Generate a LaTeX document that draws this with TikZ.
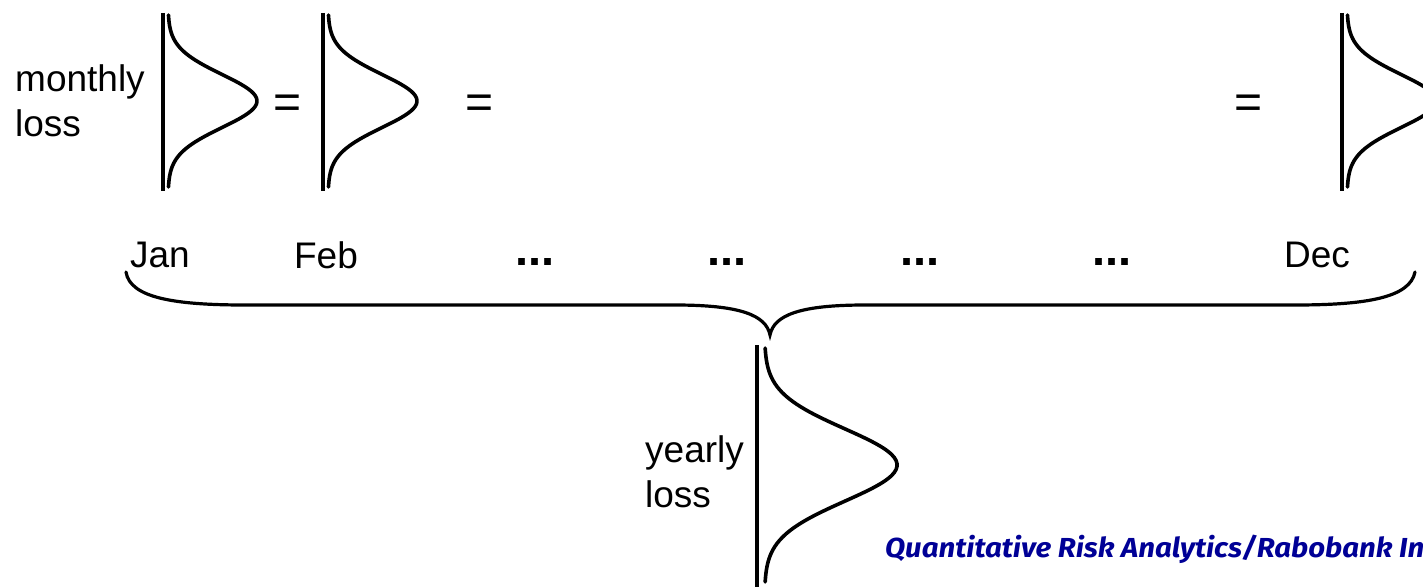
\documentclass[tikz,border=0pt]{standalone}
\usepackage{fontspec}
\setmainfont{Liberation Sans}
\newfontfamily\footfont{Fira Sans}
\definecolor{qrablue}{RGB}{0,0,150}
\tikzset{
  lbl/.style={font=\fontsize{37}{45}\selectfont, inner sep=0pt, align=left},
  eqsign/.style={font=\fontsize{48}{50}\selectfont, inner sep=0pt},
  dots/.style={font=\fontsize{47}{50}\selectfont\bfseries, inner sep=0pt, anchor=base},
  ln/.style={line width=3.2pt, line cap=butt},
  crv/.style={line width=3.6pt, line cap=round},
}
% distribution: #1 = x of axis, #2 = y of centre, #3 = x scale, #4 = y scale
\newcommand{\distshape}[4]{%
  \draw[ln] (#1,{#2-88*#4}) -- (#1,{#2+90*#4});
  \draw[crv] plot[domain=-86:86, samples=80, smooth, variable=\t]
    ({#1+#3*(5+89*exp(-(\t*\t)/1412))}, {#2+#4*\t});
}
\begin{document}
\begin{tikzpicture}[x=1pt,y=-1pt]
\useasboundingbox (0,0) rectangle (1423,586);
\clip (0,0) rectangle (1423,586);
% monthly distributions
\distshape{163}{101}{1}{1}
\distshape{323}{101}{1}{1}
\distshape{1342}{101}{1}{1}
% yearly distribution
\distshape{757}{465}{1.49}{1.36}
% labels
\node[lbl, anchor=west] (monthly) at (15,101) {monthly\\loss};
\node[eqsign] (eq1) at (288,107) {=};
\node[eqsign] (eq2) at (480,107) {=};
\node[eqsign] (eq3) at (1248,107) {=};
\node[lbl] (jan) at (160,255) {Jan};
\node[lbl] (feb) at (326,255) {Feb};
\node[dots] (d1) at (535,265) {...};
\node[dots] (d2) at (727,265) {...};
\node[dots] (d3) at (920,265) {...};
\node[dots] (d4) at (1112,265) {...};
\node[lbl] (dec) at (1317,255) {Dec};
\node[lbl, anchor=west] (yearly) at (645,472) {yearly\\loss};
% brace
\coordinate (bl) at (126,272);
\coordinate (br) at (1415,272);
\coordinate (cusp) at (770,335);
\draw[line width=3.2pt, line cap=round]
  (bl) .. controls (130,298) and (175,305) .. (245,305)
  -- (675,305) .. controls (740,305) and (766,315) .. (cusp)
  .. controls (774,315) and (800,305) .. (865,305)
  -- (1295,305) .. controls (1365,305) and (1410,298) .. (br);
% footer
\node[font=\footfont\fontsize{27.5}{30}\selectfont\bfseries\itshape, text=qrablue, inner sep=0pt, anchor=base west]
  (footer) at (885,557) {\scalebox{1.07}[1]{Quantitative Risk Analytics/Rabobank In}};
\end{tikzpicture}
\end{document}
